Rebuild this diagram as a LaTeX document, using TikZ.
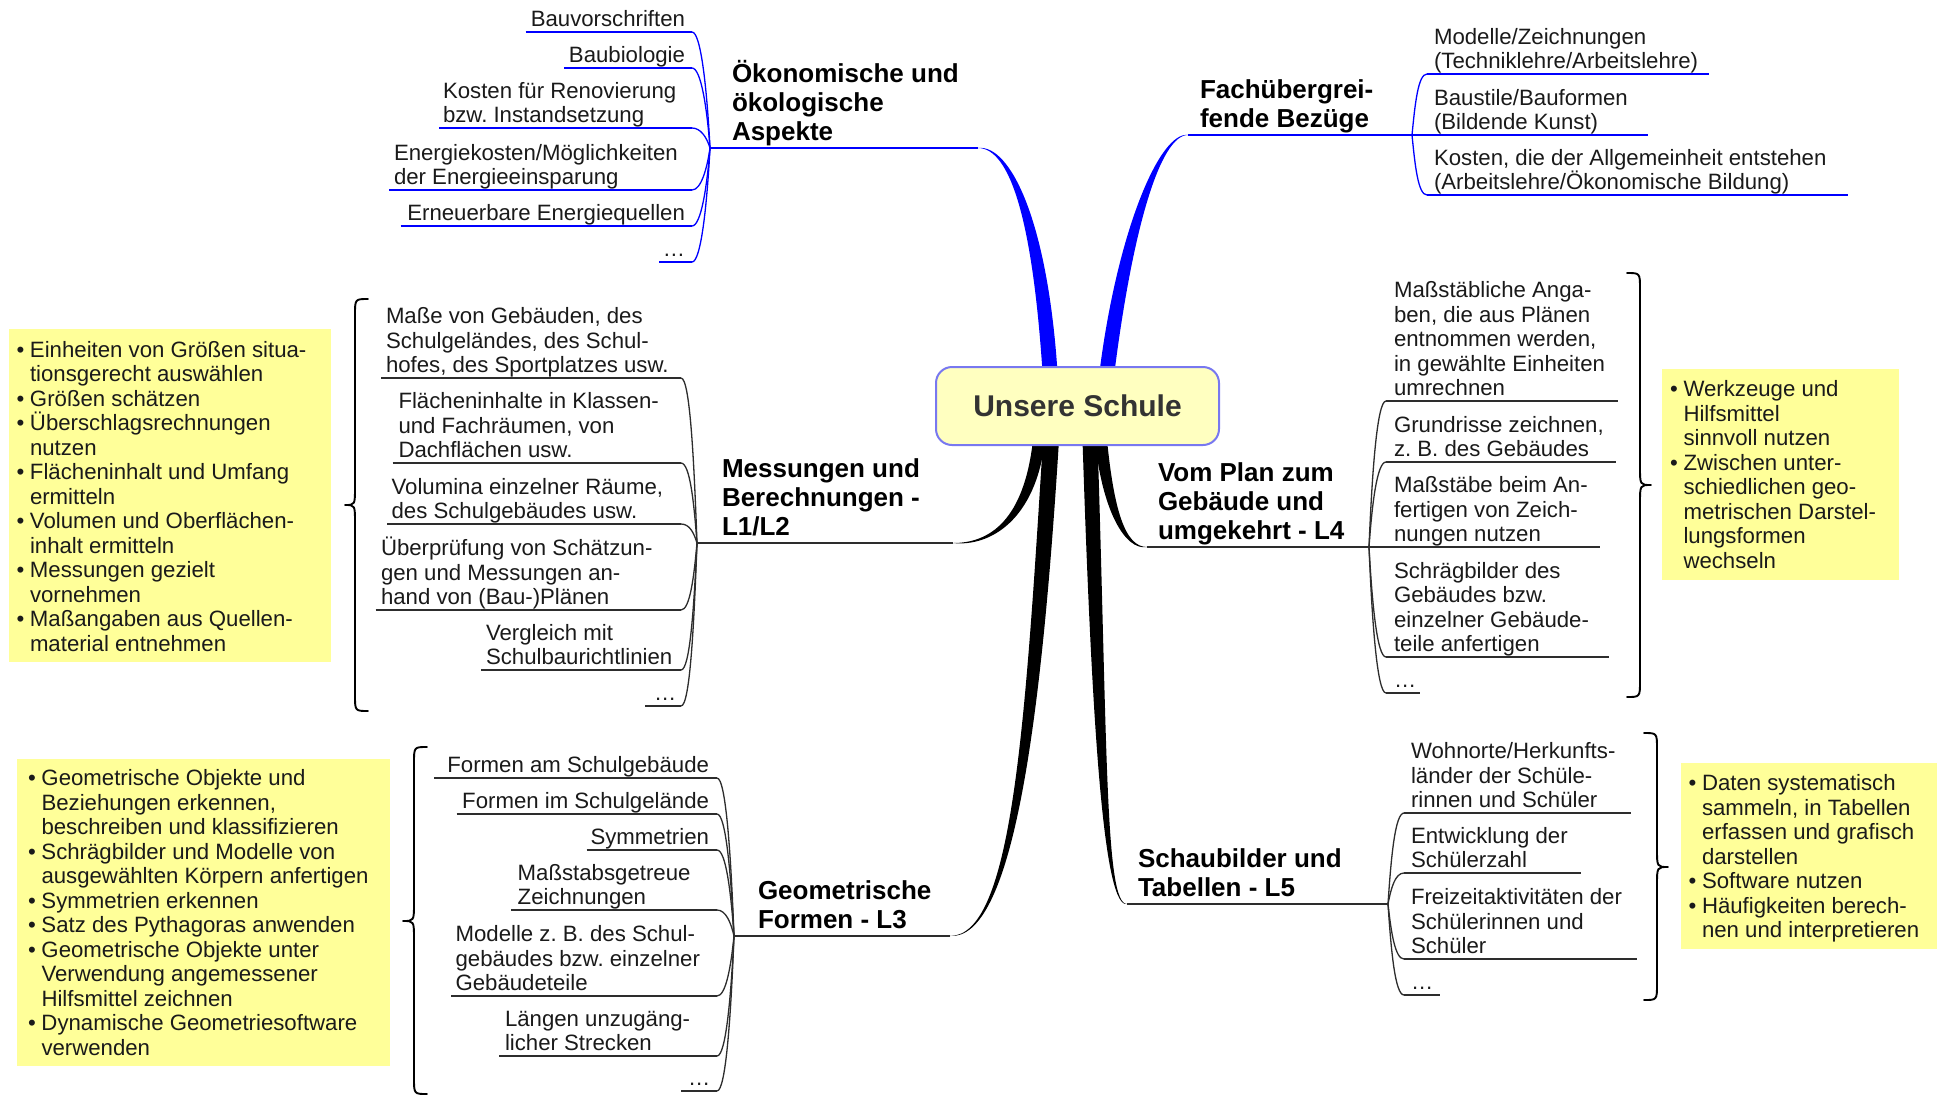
\documentclass[tikz,border=0pt]{standalone}
\usepackage{fontspec}
\setmainfont{Liberation Sans}
\usetikzlibrary{calc}
\definecolor{txt}{HTML}{1A1A1A}
\definecolor{rootfill}{RGB}{255,255,192}
\definecolor{rootdraw}{RGB}{120,120,240}
\definecolor{notefill}{RGB}{255,255,153}
\definecolor{bluebr}{RGB}{0,0,255}
\definecolor{darkln}{RGB}{45,45,45}
\newcommand\ctext{\frenchspacing\fontsize{22.2}{24.5}\selectfont}
\newcommand\htext{\frenchspacing\bfseries\fontsize{26}{28.8}\selectfont}
\newcommand\bl{\makebox[13.5pt][l]{•}}
\newcommand\ind{\hspace*{13.5pt}}
% tapered main branch: start, c1, c2, end, halfwidth, colour, c2 offset A, c2 offset B
\newcommand\taper[8]{\fill[#6] ($(#1)+(-#5,0)$) .. controls ($(#2)+(-#5,0)$) and ($(#3)+(#7)$) .. (#4) .. controls ($(#3)+(#8)$) and ($(#2)+(#5,0)$) .. ($(#1)+(#5,0)$) -- cycle;}
% connector from a left-hand child (underline end) to its fan point
\newcommand\lc[3]{\draw[#3] (#1) .. controls ($(#1)+(9,0)$) and ($(#2|-#1)!0.5!(#2)+(-3,0)$) .. (#2);}
% connector from a fan point to a right-hand child (underline start)
\newcommand\rc[3]{\draw[#3] (#1) .. controls ($(#1|-#2)!0.5!(#1)+(3,0)$) and ($(#2)+(-9,0)$) .. (#2);}
% curly brace: x of ends, x of spine, x of tip, y top, y middle, y bottom
\newcommand\cbrace[6]{\draw[brline] (#1,#4) .. controls (#2,#4) .. (#2,#4+16) -- (#2,#5-18) .. controls (#2,#5) .. (#3,#5) .. controls (#2,#5) .. (#2,#5+18) -- (#2,#6-16) .. controls (#2,#6) .. (#1,#6);}
\begin{document}
\begin{tikzpicture}[x=1pt,y=-1pt,
  base/.style={inner sep=0pt,outer sep=0pt,text=txt,font=\ctext},
  lt/.style={base,align=left,anchor=south west,execute at end node={\rule[-5.5pt]{0pt}{5.5pt}}},
  rt/.style={base,align=right,anchor=south east,execute at end node={\rule[-5.5pt]{0pt}{5.5pt}}},
  head/.style={inner sep=0pt,outer sep=0pt,text=black,font=\htext,align=left,anchor=south west,execute at end node={\rule[-7.5pt]{0pt}{7.5pt}}},
  notetxt/.style={base,align=left,anchor=north west,execute at begin node={\rule{0pt}{20pt}}},
  bsub/.style={draw=bluebr,line width=1.3pt},
  ksub/.style={draw=darkln,line width=1.3pt},
  bmain/.style={draw=bluebr,line width=1.8pt},
  kmain/.style={draw=darkln,line width=2pt},
  brline/.style={draw=black,line width=1.9pt,line cap=round,line join=round},
  rootnode/.style={draw=rootdraw,line width=2pt,fill=rootfill,rounded corners=16pt,minimum width=283pt,minimum height=78pt,inner sep=0pt,text={rgb,255:red,51;green,51;blue,51},font=\bfseries\fontsize{30}{34}\selectfont}
]
\useasboundingbox (0,0) rectangle (1939,1096);
\fill[white] (0,0) rectangle (1939,1096);

% ---------- yellow notes (boxes) ----------
\fill[notefill] (8.6,329) rectangle (331,662);
\fill[notefill] (17,759) rectangle (389.5,1066);
\fill[notefill] (1662,369) rectangle (1898.7,580);
\fill[notefill] (1681,763) rectangle (1937,949);

% ---------- coordinates of branch ends ----------
\coordinate (okfan) at (710,148);   \coordinate (okend) at (978,148);
\coordinate (fbfan) at (1412,135);  \coordinate (fachend) at (1188,135);
\coordinate (msfan) at (697,543);   \coordinate (messend) at (953,543);
\coordinate (gffan) at (734,936);   \coordinate (geoend) at (950,936);
\coordinate (vpfan) at (1369,547);  \coordinate (vomend) at (1147,547);
\coordinate (sbfan) at (1388,904);  \coordinate (schauend) at (1127,904);

% ---------- start points of the main branches on the central node ----------
\coordinate (rootN) at (1077.5,367);
\coordinate (rootS) at (1077.5,445);
\coordinate (sOeko) at ($(rootN)+(-27.5,5)$);
\coordinate (sFach) at ($(rootN)+(29.5,5)$);
\coordinate (sMess) at ($(rootS)+(-38.5,-5)$);
\coordinate (sGeo) at ($(rootS)+(-26.5,-5)$);
\coordinate (sSchau) at ($(rootS)+(12.5,-5)$);
\coordinate (sVom) at ($(rootS)+(23.5,-5)$);

% ---------- tapered main branches ----------
\taper{sOeko}{1040,220}{1010,148}{okend}{7.5}{bluebr}{0,0}{0,-4}
\taper{sFach}{1125,230}{1160,135}{fachend}{7.5}{bluebr}{0,-4}{0,0}
\taper{sMess}{1030,520}{990,543}{messend}{6}{black}{0,0}{0,4}
\taper{sGeo}{1033,730}{1012,936}{geoend}{8}{black}{0,0}{0,4}
\taper{sVom}{1108,510}{1125,547}{vomend}{6}{black}{0,4}{0,0}
\taper{sSchau}{1100,750}{1105,904}{schauend}{7.5}{black}{0,4}{0,0}

% ---------- central node ----------
\node[rootnode] (root) at (1077.5,406) {Unsere Schule};

% ---------- main underlines and headings ----------
\draw[bmain] (okfan) -- (okend);
\draw[bmain] (fachend) -- (fbfan);
\draw[kmain] (msfan) -- (messend);
\draw[kmain] (gffan) -- (geoend);
\draw[kmain] (vomend) -- (vpfan);
\draw[kmain] (schauend) -- (sbfan);

\node[head] (oeko) at (732,148) {Ökonomische und\\ökologische\\Aspekte};
\node[head] (fach) at (1200,135) {Fachübergrei-\\fende Bezüge};
\node[head] (mess) at (722,543) {Messungen und\\Berechnungen -\\L1/L2};
\node[head] (geo) at (758,936) {Geometrische\\Formen - L3};
\node[head] (vom) at (1158,547) {Vom Plan zum\\Gebäude und\\umgekehrt - L4};
\node[head] (schau) at (1138,904) {Schaubilder und\\Tabellen - L5};

% ---------- Oekonomische children ----------
\node[rt] (ok1) at (685,32) {Bauvorschriften};
\node[rt] (ok2) at (685,68) {Baubiologie};
\node[lt] (ok3) at (443,128) {Kosten für Renovierung\\bzw. Instandsetzung};
\node[lt] (ok4) at (394,190) {Energiekosten/Möglichkeiten\\der Energieeinsparung};
\node[rt] (ok5) at (685,226) {Erneuerbare Energiequellen};
\node[rt] (ok6) at (685,262) {…};
\coordinate (ok1e) at (692,32);  \draw[bsub] (525.5,32) -- (ok1e);  \lc{ok1e}{okfan}{bsub}
\coordinate (ok2e) at (692,68);  \draw[bsub] (564,68) -- (ok2e);    \lc{ok2e}{okfan}{bsub}
\coordinate (ok3e) at (692,128); \draw[bsub] (439,128) -- (ok3e);   \lc{ok3e}{okfan}{bsub}
\coordinate (ok4e) at (692,190); \draw[bsub] (389,190) -- (ok4e);   \lc{ok4e}{okfan}{bsub}
\coordinate (ok5e) at (692,226); \draw[bsub] (400.5,226) -- (ok5e); \lc{ok5e}{okfan}{bsub}
\coordinate (ok6e) at (692,262); \draw[bsub] (659,262) -- (ok6e);   \lc{ok6e}{okfan}{bsub}

% ---------- Fachuebergreifende children ----------
\node[lt] (fb1) at (1434,74) {Modelle/Zeichnungen\\(Techniklehre/Arbeitslehre)};
\node[lt] (fb2) at (1434,135) {Baustile/Bauformen\\(Bildende Kunst)};
\node[lt] (fb3) at (1434,195) {Kosten, die der Allgemeinheit entstehen\\(Arbeitslehre/Ökonomische Bildung)};
\coordinate (fb1s) at (1427,74);  \draw[bsub] (fb1s) -- (1709,74);  \rc{fbfan}{fb1s}{bsub}
\coordinate (fb2s) at (1427,135); \draw[bsub] (fb2s) -- (1648,135); \rc{fbfan}{fb2s}{bsub}
\coordinate (fb3s) at (1427,195); \draw[bsub] (fb3s) -- (1848,195); \rc{fbfan}{fb3s}{bsub}

% ---------- Messungen children ----------
\node[lt] (ms1) at (386,378) {Maße von Gebäuden, des\\Schulgeländes, des Schul-\\hofes, des Sportplatzes usw.};
\node[lt] (ms2) at (398.5,463) {Flächeninhalte in Klassen-\\und Fachräumen, von\\Dachflächen usw.};
\node[lt] (ms3) at (391.6,524) {Volumina einzelner Räume,\\des Schulgebäudes usw.};
\node[lt] (ms4) at (381,610) {Überprüfung von Schätzun-\\gen und Messungen an-\\hand von (Bau-)Plänen};
\node[lt] (ms5) at (486,670) {Vergleich mit\\Schulbaurichtlinien};
\node[lt] (ms6) at (654,706) {…};
\coordinate (ms1e) at (681,378); \draw[ksub] (381,378) -- (ms1e);   \lc{ms1e}{msfan}{ksub}
\coordinate (ms2e) at (681,463); \draw[ksub] (392.5,463) -- (ms2e); \lc{ms2e}{msfan}{ksub}
\coordinate (ms3e) at (681,524); \draw[ksub] (387,524) -- (ms3e);   \lc{ms3e}{msfan}{ksub}
\coordinate (ms4e) at (681,610); \draw[ksub] (375.5,610) -- (ms4e); \lc{ms4e}{msfan}{ksub}
\coordinate (ms5e) at (681,670); \draw[ksub] (481,670) -- (ms5e);   \lc{ms5e}{msfan}{ksub}
\coordinate (ms6e) at (681,706); \draw[ksub] (645,706) -- (ms6e);   \lc{ms6e}{msfan}{ksub}

% ---------- Geometrische children ----------
\node[rt] (gf1) at (709,778) {Formen am Schulgebäude};
\node[rt] (gf2) at (709,814) {Formen im Schulgelände};
\node[rt] (gf3) at (709,850) {Symmetrien};
\node[lt] (gf4) at (517.7,910) {Maßstabsgetreue\\Zeichnungen};
\node[lt] (gf5) at (455.6,996) {Modelle z. B. des Schul-\\gebäudes bzw. einzelner\\Gebäudeteile};
\node[lt] (gf6) at (505,1056) {Längen unzugäng-\\licher Strecken};
\node[lt] (gf7) at (688,1091) {…};
\coordinate (gf1e) at (717,778);  \draw[ksub] (434,778) -- (gf1e);   \lc{gf1e}{gffan}{ksub}
\coordinate (gf2e) at (717,814);  \draw[ksub] (456.6,814) -- (gf2e); \lc{gf2e}{gffan}{ksub}
\coordinate (gf3e) at (717,850);  \draw[ksub] (586.5,850) -- (gf3e); \lc{gf3e}{gffan}{ksub}
\coordinate (gf4e) at (717,910);  \draw[ksub] (511,910) -- (gf4e);   \lc{gf4e}{gffan}{ksub}
\coordinate (gf5e) at (717,996);  \draw[ksub] (451,996) -- (gf5e);   \lc{gf5e}{gffan}{ksub}
\coordinate (gf6e) at (717,1056); \draw[ksub] (499,1056) -- (gf6e);  \lc{gf6e}{gffan}{ksub}
\coordinate (gf7e) at (717,1091); \draw[ksub] (681,1091) -- (gf7e);  \lc{gf7e}{gffan}{ksub}

% ---------- Vom Plan children ----------
\node[lt] (vp1) at (1394,401) {Maßstäbliche Anga-\\ben, die aus Plänen\\entnommen werden,\\in gewählte Einheiten\\umrechnen};
\node[lt] (vp2) at (1394,462) {Grundrisse zeichnen,\\z. B. des Gebäudes};
\node[lt] (vp3) at (1394,547) {Maßstäbe beim An-\\fertigen von Zeich-\\nungen nutzen};
\node[lt] (vp4) at (1394,657) {Schrägbilder des\\Gebäudes bzw.\\einzelner Gebäude-\\teile anfertigen};
\node[lt] (vp5) at (1394,693) {…};
\coordinate (vp1s) at (1386,401); \draw[ksub] (vp1s) -- (1618,401); \rc{vpfan}{vp1s}{ksub}
\coordinate (vp2s) at (1386,462); \draw[ksub] (vp2s) -- (1616,462); \rc{vpfan}{vp2s}{ksub}
\coordinate (vp3s) at (1386,547); \draw[ksub] (vp3s) -- (1600,547); \rc{vpfan}{vp3s}{ksub}
\coordinate (vp4s) at (1386,657); \draw[ksub] (vp4s) -- (1609,657); \rc{vpfan}{vp4s}{ksub}
\coordinate (vp5s) at (1386,693); \draw[ksub] (vp5s) -- (1420,693); \rc{vpfan}{vp5s}{ksub}

% ---------- Schaubilder children ----------
\node[lt] (sb1) at (1411,813) {Wohnorte/Herkunfts-\\länder der Schüle-\\rinnen und Schüler};
\node[lt] (sb2) at (1411,873) {Entwicklung der\\Schülerzahl};
\node[lt] (sb3) at (1411,959) {Freizeitaktivitäten der\\Schülerinnen und\\Schüler};
\node[lt] (sb4) at (1411,995) {…};
\coordinate (sb1s) at (1404,813); \draw[ksub] (sb1s) -- (1631,813); \rc{sbfan}{sb1s}{ksub}
\coordinate (sb2s) at (1404,873); \draw[ksub] (sb2s) -- (1581,873); \rc{sbfan}{sb2s}{ksub}
\coordinate (sb3s) at (1404,959); \draw[ksub] (sb3s) -- (1637,959); \rc{sbfan}{sb3s}{ksub}
\coordinate (sb4s) at (1404,995); \draw[ksub] (sb4s) -- (1440,995); \rc{sbfan}{sb4s}{ksub}

% ---------- braces ----------
\cbrace{368}{355}{345}{299}{505}{711}
\cbrace{427}{414}{403}{747}{921}{1094}
\cbrace{1627}{1640}{1651}{273}{485}{697}
\cbrace{1644}{1657}{1668}{733}{867}{1000}

% ---------- note texts ----------
\node[notetxt] (noteM) at (16.5,341) {\bl Einheiten von Größen situa-\\\ind tionsgerecht auswählen\\\bl Größen schätzen\\\bl Überschlagsrechnungen\\\ind nutzen\\\bl Flächeninhalt und Umfang\\\ind ermitteln\\\bl Volumen und Oberflächen-\\\ind inhalt ermitteln\\\bl Messungen gezielt\\\ind vornehmen\\\bl Maßangaben aus Quellen-\\\ind material entnehmen};
\node[notetxt] (noteG) at (28,769.5) {\bl Geometrische Objekte und\\\ind Beziehungen erkennen,\\\ind beschreiben und klassifizieren\\\bl Schrägbilder und Modelle von\\\ind ausgewählten Körpern anfertigen\\\bl Symmetrien erkennen\\\bl Satz des Pythagoras anwenden\\\bl Geometrische Objekte unter\\\ind Verwendung angemessener\\\ind Hilfsmittel zeichnen\\\bl Dynamische Geometriesoftware\\\ind verwenden};
\node[notetxt] (noteV) at (1670,380.5) {\bl Werkzeuge und\\\ind Hilfsmittel\\\ind sinnvoll nutzen\\\bl Zwischen unter-\\\ind schiedlichen geo-\\\ind metrischen Darstel-\\\ind lungsformen\\\ind wechseln};
\node[notetxt] (noteS) at (1688.5,774.5) {\bl Daten systematisch\\\ind sammeln, in Tabellen\\\ind erfassen und grafisch\\\ind darstellen\\\bl Software nutzen\\\bl Häufigkeiten berech-\\\ind nen und interpretieren};
\end{tikzpicture}
\end{document}
